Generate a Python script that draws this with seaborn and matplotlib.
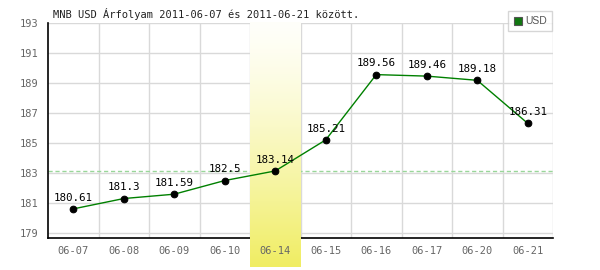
import numpy as np
import pandas as pd
import matplotlib
matplotlib.use("Agg")
import matplotlib.pyplot as plt
from matplotlib.lines import Line2D
import seaborn as sns

dates = ["06-07", "06-08", "06-09", "06-10", "06-14", "06-15", "06-16", "06-17", "06-20", "06-21"]
values = [180.61, 181.3, 181.59, 182.5, 183.14, 185.21, 189.56, 189.46, 189.18, 186.31]
value_labels = ["180.61", "181.3", "181.59", "182.5", "183.14", "185.21", "189.56", "189.46", "189.18", "186.31"]
yticks = [179, 181, 183, 185, 187, 189, 191, 193]
highlight = "06-14"
ref_value = 183.14
title = "MNB USD Árfolyam 2011-06-07 és 2011-06-21 között."
series_name = "USD"

sns.set_style("white")
plt.rcParams["font.family"] = ["DejaVu Sans Mono", "DejaVu Sans"]

df = pd.DataFrame({"date": dates, "value": values})

fig = plt.figure(figsize=(6, 2.7), dpi=100)
ax = fig.add_axes([48 / 600, 1 - 238 / 270, (553 - 48) / 600, (238 - 23) / 270])

ymin, ymax = 178.67, 193.0
ax.set_xlim(-0.5, len(dates) - 0.5)
ax.set_ylim(ymin, ymax)

# manual grid
for yt in yticks:
    ax.axhline(yt, color="#d9d9d9", lw=1, zorder=0.5)
for b in np.arange(0.5, len(dates) - 0.5, 1.0):
    ax.axvline(b, color="#d9d9d9", lw=1, zorder=0.5)
ax.axvline(len(dates) - 0.5, color="#d9d9d9", lw=1, zorder=0.5)

# reference dashed line
ax.axhline(ref_value, color="#99d699", lw=1, ls=(0, (3, 2)), zorder=1)

# highlight gradient band
hi = dates.index(highlight)
grad = np.linspace(0, 1, 256).reshape(-1, 1) ** 1.3
top = np.array([255, 255, 250]) / 255
bot = np.array([240, 237, 98]) / 255
img = top[None, None, :] * (1 - grad[..., None]) + bot[None, None, :] * grad[..., None]
band_bottom = ymax - (267 - 23) / 15.0
ax.imshow(img, extent=(hi - 0.5, hi + 0.5, band_bottom, ymax), aspect="auto",
          origin="upper", zorder=3, clip_on=False, interpolation="bilinear")

sns.lineplot(data=df, x="date", y="value", ax=ax, color="#008000", lw=1,
             marker="o", markersize=4.8, markerfacecolor="black",
             markeredgecolor="black", zorder=4, legend=False, sort=False)

for i, (v, lab) in enumerate(zip(values, value_labels)):
    ax.annotate(lab, (i, v), xytext=(0, 4.5), textcoords="offset points",
                ha="center", va="bottom", fontsize=7.8, color="black", zorder=6)

ax.set_yticks(yticks)
ax.set_xticks(range(len(dates)))
ax.set_xticklabels(dates)
ax.tick_params(axis="both", length=0, labelsize=7.5, labelcolor="#666666")
ax.tick_params(axis="x", pad=6)
ax.tick_params(axis="y", pad=7)
ax.xaxis.set_zorder(5)
ax.yaxis.set_zorder(5)
ax.set_xlabel("")
ax.set_ylabel("")

for s in ["top", "right"]:
    ax.spines[s].set_visible(False)
ax.spines["left"].set_color("black")
ax.spines["bottom"].set_color("black")
ax.spines["left"].set_linewidth(1.2)
ax.spines["bottom"].set_linewidth(1.2)
ax.spines["left"].set_zorder(2.5)
ax.spines["bottom"].set_zorder(2.5)

fig.text(53 / 600, 1 - 14 / 270, title, fontsize=7.5, color="#222222",
         ha="left", va="center")

handle = Line2D([], [], marker="s", color="none", markerfacecolor="#117711",
                markeredgecolor="#555555", markersize=6, markeredgewidth=0.8)
leg = fig.legend([handle], [series_name], loc="upper right",
                 bbox_to_anchor=(552 / 600, 1 - 11 / 270), borderaxespad=0,
                 frameon=True, fancybox=False, handlelength=0.8,
                 handletextpad=0.3, borderpad=0.5,
                 prop={"family": "Liberation Sans", "size": 7.5})
leg.get_frame().set_edgecolor("#cccccc")
leg.get_frame().set_linewidth(1)
for t in leg.get_texts():
    t.set_color("#555555")

fig.savefig("out.png", dpi=100)
